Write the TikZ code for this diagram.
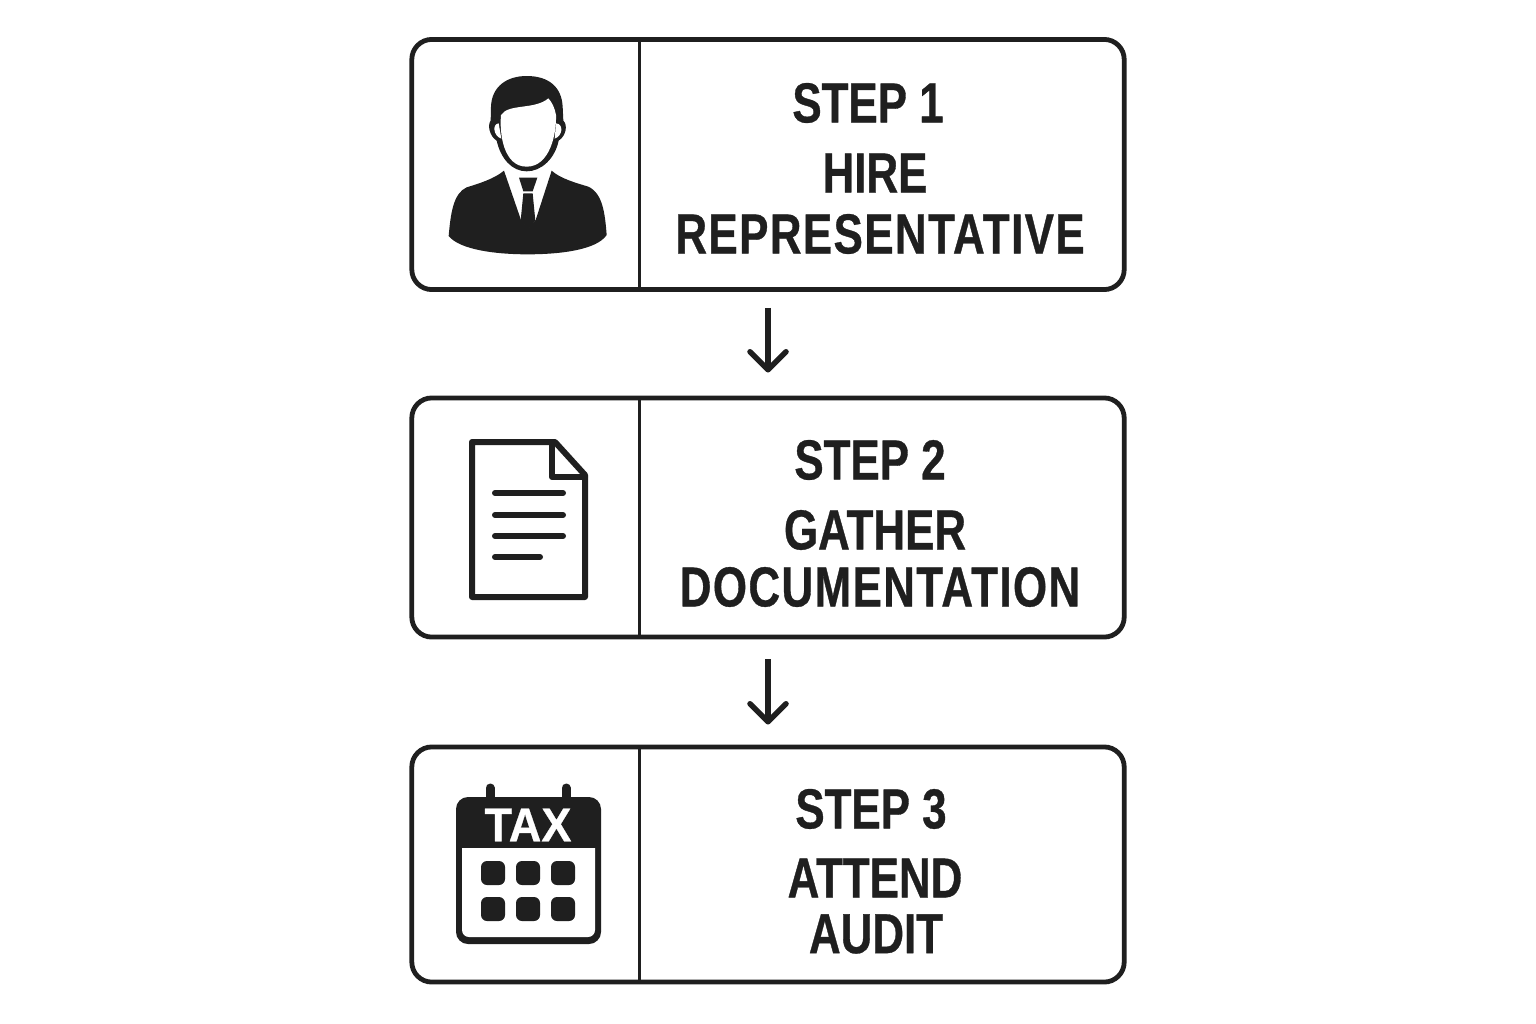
\documentclass[tikz,border=0pt]{standalone}
\usepackage{fontspec}
\setmainfont{Liberation Sans}[FakeStretch=0.78, BoldFeatures={FakeBold=0.6}]
\usetikzlibrary{arrows.meta}
\definecolor{inkblack}{HTML}{1F1F1F}

\begin{document}
\begin{tikzpicture}[
    x=0.01cm, y=-0.01cm,
    stepbox/.style={draw=inkblack, line width=0.48mm, rounded corners=0.2cm, minimum width=7.12cm, fill=white},
    steplabel/.style={font=\fontsize{16}{16}\selectfont\bfseries, text=inkblack, inner sep=0pt},
    widelabel/.style={steplabel, font=\fontsize{16}{16}\selectfont\bfseries\addfontfeature{LetterSpace=2.5}},
    divider/.style={draw=inkblack, line width=0.3mm},
    conn/.style={draw=inkblack, line width=0.55mm, -{Straight Barb[length=1.8mm, width=3.6mm, round]}, shorten >=2.3mm, shorten <=1.6mm},
    iconline/.style={draw=inkblack, line width=0.6mm, line join=round, line cap=round}
]
\useasboundingbox (0,0) rectangle (1536,1024);

% --- boxes ---
\node[stepbox, minimum height=2.5cm] (box1) at (768,164.5) {};
\node[stepbox, minimum height=2.39cm] (box2) at (768,517.5) {};
\node[stepbox, minimum height=2.35cm] (box3) at (768,864.5) {};

% --- dividers ---
\coordinate (div1a) at (639,40);
\coordinate (div1b) at (639,289);
\coordinate (div2a) at (639,398);
\coordinate (div2b) at (639,637);
\coordinate (div3a) at (639,747);
\coordinate (div3b) at (639,982);
\draw[divider] (div1a) -- (div1b);
\draw[divider] (div2a) -- (div2b);
\draw[divider] (div3a) -- (div3b);

% --- connections ---
\draw[conn] (box1) -- (box2);
\draw[conn, shorten >=2mm, shorten <=2mm] (box2) -- (box3);

% --- text: step 1 ---
\node[steplabel] (step1) at (868,103) {STEP 1};
\node[steplabel] (title1a) at (875,173) {HIRE};
\node[widelabel] (title1b) at (880,234) {REPRESENTATIVE};

% --- text: step 2 ---
\node[steplabel] (step2) at (870,460) {STEP 2};
\node[steplabel] (title2a) at (875,530) {GATHER};
\node[widelabel] (title2b) at (880,587) {DOCUMENTATION};

% --- text: step 3 ---
\node[steplabel] (step3) at (871,809) {STEP 3};
\node[steplabel] (title3a) at (875,878) {ATTEND};
\node[steplabel] (title3b) at (876,934) {AUDIT};

% --- icon: person ---
\begin{scope}[shift={(420,50)}, scale=1/3]
\fill[inkblack] (320,78) .. controls (260,78) and (215,110) .. (213,170) -- (212,212)
    .. controls (202,225) and (208,258) .. (230,272)
    .. controls (242,325) and (275,364) .. (320,364)
    .. controls (365,364) and (405,325) .. (416,272)
    .. controls (438,258) and (444,225) .. (430,212) -- (428,170)
    .. controls (425,110) and (385,78) .. (320,78) -- cycle;
\fill[white] (243,195) .. controls (238,250) and (250,350) .. (320,350)
    .. controls (390,350) and (410,250) .. (408,195)
    .. controls (405,175) and (395,155) .. (385,145)
    .. controls (345,180) and (265,160) .. (243,195) -- cycle;
\fill[white] (236,220) .. controls (216,222) and (220,258) .. (244,266) -- cycle;
\fill[white] (408,220) .. controls (432,222) and (428,258) .. (404,266) -- cycle;
\fill[inkblack] (252,362) .. controls (225,385) and (180,400) .. (140,412)
    .. controls (100,430) and (92,490) .. (86,558)
    .. controls (120,600) and (230,613) .. (322,613)
    .. controls (420,613) and (530,600) .. (560,555)
    .. controls (555,490) and (548,430) .. (505,410)
    .. controls (465,398) and (420,385) .. (395,362)
    -- (347,510) -- (325,535) -- (303,510) -- cycle;
\fill[inkblack] (297,383) -- (352,383) -- (338,424) -- (310,424) -- cycle;
\fill[inkblack] (310,430) -- (338,430) -- (346,512) -- (325,538) -- (302,512) -- cycle;
\end{scope}

% --- icon: document ---
\draw[iconline] (472,442) -- (555,442) -- (585,475) -- (585,597) -- (472,597) -- cycle;
\draw[iconline] (552,442) -- (552,477) -- (585,477);
\foreach \y/\xend in {493/563, 515/563, 536/563, 557/540}
    \draw[iconline] (495,\y) -- (\xend,\y);

% --- icon: calendar ---
\draw[inkblack, line width=0.9mm, line cap=round] (490,788) -- (490,800);
\draw[inkblack, line width=0.9mm, line cap=round] (566,788) -- (566,800);
\fill[inkblack, rounded corners=0.12cm] (456,797) rectangle (601,944);
\fill[white] (462,848) [rounded corners=0.07cm] -- (462,937) -- (595,937) [sharp corners] -- (595,848) -- cycle;
\node[font=\fontsize{13.5}{13.5}\selectfont\bfseries\addfontfeature{FakeStretch=0.95}, text=white, inner sep=0pt] (taxlabel) at (528,825) {TAX};
\foreach \cx in {493,528,563}
    \foreach \cy in {873,909}
        \fill[inkblack, rounded corners=0.06cm] (\cx-12,\cy-12) rectangle (\cx+12,\cy+12);

\end{tikzpicture}
\end{document}
